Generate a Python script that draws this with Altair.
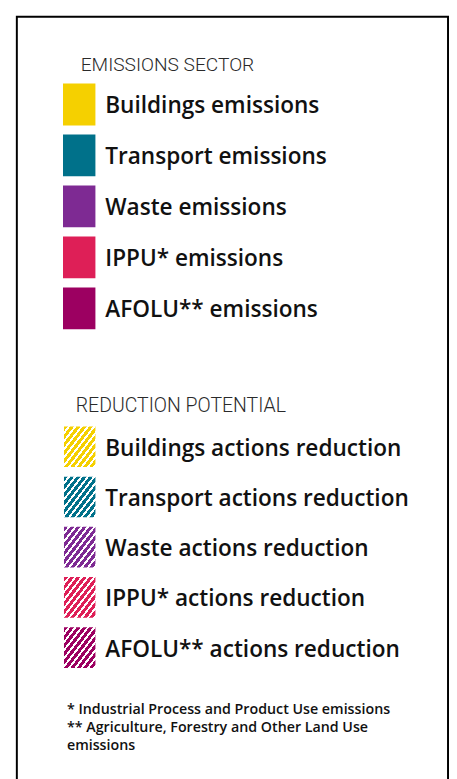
import altair as alt
import pandas as pd

# ---- data ----
sectors = ["Buildings", "Transport", "Waste", "IPPU*", "AFOLU**"]
sector_colors = ["#F5D000", "#00718A", "#7E2A93", "#DE1F57", "#9C0061"]
emission_labels = ["Buildings emissions", "Transport emissions", "Waste emissions",
                   "IPPU* emissions", "AFOLU** emissions"]
reduction_labels = ["Buildings actions reduction", "Transport actions reduction",
                    "Waste actions reduction", "IPPU* actions reduction",
                    "AFOLU** actions reduction"]
headers = ["EMISSIONS SECTOR", "REDUCTION POTENTIAL"]
footnotes = ["* Industrial Process and Product Use emissions",
             "** Agriculture, Forestry and Other Land Use",
             "emissions"]

LABEL_FONT = "Open Sans"
HEAD_FONT = "Roboto"

emis_df = pd.DataFrame({"label": emission_labels, "color": sector_colors})
red_df = pd.DataFrame({"label": reduction_labels, "color": sector_colors})

# ---- emissions section ----
y_emis = alt.Y("label:N", sort=emission_labels, axis=None,
               scale=alt.Scale(range=[70, 320], paddingInner=0.18, paddingOuter=0))
emis_rect = alt.Chart(emis_df).mark_rect().encode(
    y=y_emis, x=alt.value(56), x2=alt.value(89),
    fill=alt.Fill("label:N", scale=alt.Scale(domain=emission_labels, range=sector_colors), legend=None),
)
emis_text = alt.Chart(emis_df).mark_text(
    align="left", baseline="middle", font=LABEL_FONT, fontSize=23, fontWeight=600,
    color="#111111", dy=2,
).encode(y=y_emis, x=alt.value(99), text="label:N")
emis_layer = alt.layer(emis_rect, emis_text)

# ---- reduction section (hatched swatches) ----
y_red = alt.Y("label:N", sort=reduction_labels, axis=None,
              scale=alt.Scale(range=[419, 665], paddingInner=0.19, paddingOuter=0))


def hatch(color, periods=10, frac=0.62):
    stops = []
    for i in range(periods):
        a = i / periods
        b = (i + frac) / periods
        c = (i + 1) / periods
        stops += [{"offset": a, "color": color}, {"offset": b, "color": color},
                  {"offset": b, "color": "#ffffff"}, {"offset": c, "color": "#ffffff"}]
    return {"gradient": "linear", "x1": 0, "y1": 0, "x2": 1, "y2": 1, "stops": stops}


hatch_layers = []
for lab, col in zip(reduction_labels, sector_colors):
    hatch_layers.append(
        alt.Chart(red_df).transform_filter(alt.datum.label == lab).mark_rect(
            fill=hatch(col)
        ).encode(y=y_red, x=alt.value(57), x2=alt.value(89))
    )
red_text = alt.Chart(red_df).mark_text(
    align="left", baseline="middle", font=LABEL_FONT, fontSize=23, fontWeight=600,
    color="#111111", dy=2,
).encode(y=y_red, x=alt.value(99), text="label:N")
red_layer = alt.layer(*hatch_layers, red_text)

# ---- headers, footnotes, frame ----
one = pd.DataFrame({"k": [0]})
head1 = alt.Chart(one).mark_text(
    align="left", baseline="alphabetic", font=HEAD_FONT, fontSize=19.5, fontWeight=300,
    color="#2a2a2a"
).encode(x=alt.value(74), y=alt.value(57), text=alt.value(headers[0]))
head2 = alt.Chart(one).mark_text(
    align="left", baseline="alphabetic", font=HEAD_FONT, fontSize=19.8, fontWeight=300,
    color="#2a2a2a"
).encode(x=alt.value(69), y=alt.value(404), text=alt.value(headers[1]))
foot = alt.Chart(one).mark_text(
    align="left", baseline="alphabetic", font=LABEL_FONT, fontSize=14.5, fontWeight=600,
    color="#111111", lineHeight=18,
).encode(x=alt.value(60), y=alt.value(712), text=alt.value(footnotes))
frame = alt.Chart(one).mark_rect(fill="transparent", stroke="#000000", strokeWidth=2).encode(
    x=alt.value(9), x2=alt.value(448), y=alt.value(2), y2=alt.value(820)
)

chart = alt.layer(frame, emis_layer, red_layer, head1, head2, foot).resolve_scale(
    y="independent", fill="independent"
).properties(
    width=449, height=771, padding=0, autosize=alt.AutoSizeParams(type="none"),
    background="#ffffff",
).configure_view(strokeWidth=0)

chart.save("out.html", embed_options={"renderer": "svg", "actions": False})
